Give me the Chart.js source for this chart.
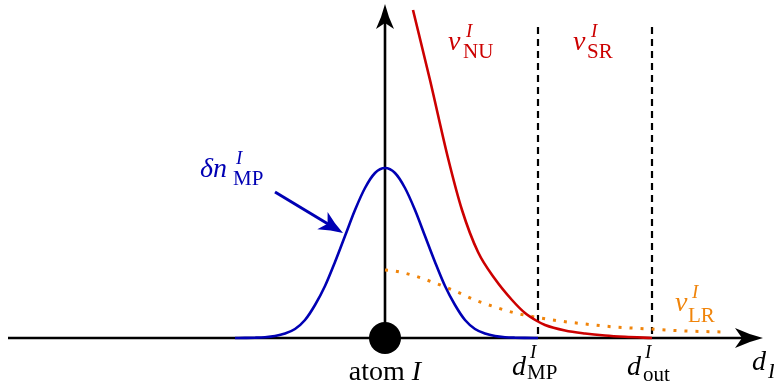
<!DOCTYPE html>
<html><head><meta charset="utf-8">
<script src="https://cdn.jsdelivr.net/npm/chart.js@4"></script>
<style>html,body{margin:0;padding:0;background:#fff;overflow:hidden}</style>
</head><body>
<canvas id="c" width="774" height="391"></canvas>
<script>
// ---- data (distance d_I, arbitrary units) ----
const densityX = [-1.5,-1.4,-1.3,-1.2,-1.1,-1.0,-0.9,-0.8,-0.7,-0.6,-0.5,-0.4,-0.3,-0.2,-0.1,0,0.1,0.2,0.3,0.4,0.5,0.6,0.7,0.8,0.9,1.0,1.1,1.2,1.3,1.4,1.53];
const densityY = [0,0.001,0.003,0.008,0.02,0.045,0.09,0.18,0.33,0.52,0.76,1.02,1.28,1.50,1.65,1.70,1.65,1.50,1.28,1.02,0.76,0.52,0.33,0.18,0.09,0.045,0.02,0.008,0.003,0.001,0];
const nuX = [0.28,0.45,0.63,0.77,0.93,1.10,1.27,1.40,1.52,1.60,1.80,2.00,2.20,2.40,2.67];
const nuY = [3.28,2.58,1.80,1.28,0.86,0.59,0.38,0.25,0.17,0.13,0.075,0.045,0.025,0.012,0];
const lrX = [0,0.1,0.3,0.5,0.7,0.9,1.1,1.3,1.5,1.75,2.0,2.3,2.65,3.0,3.4];
const lrY = [0.68,0.67,0.62,0.55,0.47,0.38,0.31,0.25,0.21,0.17,0.14,0.11,0.09,0.07,0.06];
const dMP = 1.53;
const dOut = 2.67;
const markerTop = 3.11;

// ---- styles ----
const BLUE = 'rgb(0,0,180)';
const RED = 'rgb(204,0,0)';
const ORANGE = 'rgb(240,132,10)';
const SERIF = '"Liberation Serif", "DejaVu Serif", serif';

const pts = (xs, ys) => xs.map((v, i) => ({x: v, y: ys[i]}));

function arrowHead(ctx, tx, ty, ang, len, half, inset, color) {
  ctx.save();
  ctx.translate(tx, ty); ctx.rotate(ang);
  ctx.fillStyle = color;
  ctx.beginPath();
  ctx.moveTo(0, 0);
  ctx.quadraticCurveTo(-len * 0.5, -half * 0.35, -len, -half);
  ctx.lineTo(-len + inset, 0);
  ctx.lineTo(-len, half);
  ctx.quadraticCurveTo(-len * 0.5, half * 0.35, 0, 0);
  ctx.closePath(); ctx.fill();
  ctx.restore();
}

const axesPlugin = {
  id: 'axes',
  beforeDatasetsDraw(chart) {
    const {ctx, scales: {x, y}} = chart;
    const x0 = x.getPixelForValue(0), y0 = y.getPixelForValue(0);
    const xl = x.getPixelForValue(-3.77), xr = x.getPixelForValue(3.78);
    const yt = y.getPixelForValue(3.34);
    ctx.save();
    ctx.strokeStyle = '#000'; ctx.lineWidth = 2.6;
    ctx.beginPath(); ctx.moveTo(xl, y0); ctx.lineTo(xr - 12, y0); ctx.stroke();
    ctx.beginPath(); ctx.moveTo(x0, y0); ctx.lineTo(x0, yt + 12); ctx.stroke();
    ctx.restore();
    arrowHead(ctx, xr, y0, 0, 28, 10, 7, '#000');
    arrowHead(ctx, x0, yt, -Math.PI / 2, 25, 9, 6, '#000');
  }
};

function label(ctx, color, main, mainX, baseY, sup, supX, supY, sub, subX, subY) {
  ctx.fillStyle = color;
  ctx.textBaseline = 'alphabetic';
  ctx.textAlign = 'left';
  ctx.font = 'italic 28px ' + SERIF;
  ctx.fillText(main, mainX, baseY);
  if (sup) { ctx.font = 'italic 19px ' + SERIF; ctx.fillText(sup, supX, supY); }
  if (sub) {
    ctx.font = (sub === 'I' ? 'italic ' : '') + '21px ' + SERIF;
    ctx.fillText(sub, subX, subY);
  }
}

const textPlugin = {
  id: 'texts',
  afterDatasetsDraw(chart) {
    const {ctx, scales: {x, y}} = chart;
    ctx.save();
    // blue annotation arrow
    const ax0 = x.getPixelForValue(-1.10), ay0 = y.getPixelForValue(1.46);
    const ax1 = x.getPixelForValue(-0.42), ay1 = y.getPixelForValue(1.05);
    const ang = Math.atan2(ay1 - ay0, ax1 - ax0);
    ctx.strokeStyle = BLUE; ctx.lineWidth = 3;
    ctx.beginPath(); ctx.moveTo(ax0, ay0);
    ctx.lineTo(ax1 - 16 * Math.cos(ang), ay1 - 16 * Math.sin(ang)); ctx.stroke();
    arrowHead(ctx, ax1, ay1, ang, 24, 10, 6, BLUE);

    label(ctx, BLUE, 'δn', 200, 177, 'I', 236, 164, 'MP', 233, 185);
    label(ctx, RED, 'v', 448, 50, 'I', 466, 37, 'NU', 463, 58);
    label(ctx, RED, 'v', 573, 50, 'I', 591, 37, 'SR', 587, 58);
    label(ctx, ORANGE, 'v', 675, 311, 'I', 692, 298, 'LR', 688, 322);
    label(ctx, '#000', 'd', 512, 375, 'I', 530, 358, 'MP', 527, 379);
    label(ctx, '#000', 'd', 627, 375, 'I', 645, 358, 'out', 643, 381);
    label(ctx, '#000', 'd', 752, 370, null, 0, 0, 'I', 768, 378);

    // atom I
    ctx.fillStyle = '#000';
    ctx.font = '28px ' + SERIF;
    const w1 = ctx.measureText('atom ').width;
    ctx.font = 'italic 28px ' + SERIF;
    const w2 = ctx.measureText('I').width;
    const cx = x.getPixelForValue(0);
    const start = cx - (w1 + w2) / 2;
    ctx.font = '28px ' + SERIF;
    ctx.fillText('atom ', start, 380);
    ctx.font = 'italic 28px ' + SERIF;
    ctx.fillText('I', start + w1, 380);
    ctx.restore();
  }
};

new Chart(document.getElementById('c'), {
  type: 'line',
  data: {
    datasets: [
      {label: 'atom', type: 'scatter', data: [{x: 0, y: 0}], pointRadius: 16, pointBackgroundColor: '#000', pointBorderWidth: 0, order: 0},
      {label: 'density', data: pts(densityX, densityY), borderColor: BLUE, borderWidth: 2.6, pointRadius: 0, cubicInterpolationMode: 'monotone', fill: false, order: 1},
      {label: 'vNU', data: pts(nuX, nuY), borderColor: RED, borderWidth: 2.6, pointRadius: 0, cubicInterpolationMode: 'monotone', fill: false, order: 2},
      {label: 'vLR', data: pts(lrX, lrY), borderColor: ORANGE, borderWidth: 3, borderDash: [3, 8], borderCapStyle: 'butt', pointRadius: 0, cubicInterpolationMode: 'monotone', fill: false, order: 3},
      {label: 'dMP', data: [{x: dMP, y: markerTop}, {x: dMP, y: 0}], borderColor: '#000', borderWidth: 2.2, borderDash: [7, 5], pointRadius: 0, order: 4},
      {label: 'dOut', data: [{x: dOut, y: markerTop}, {x: dOut, y: 0}], borderColor: '#000', borderWidth: 2.2, borderDash: [7, 5], pointRadius: 0, order: 4}
    ]
  },
  options: {
    responsive: false,
    animation: false,
    layout: {padding: 0, autoPadding: false},
    plugins: {legend: {display: false}, tooltip: {enabled: false}},
    scales: {
      x: {type: 'linear', min: -3.85, max: 3.89, display: false},
      y: {type: 'linear', min: -0.53, max: 3.38, display: false}
    }
  },
  plugins: [axesPlugin, textPlugin]
});
</script>
</body></html>
